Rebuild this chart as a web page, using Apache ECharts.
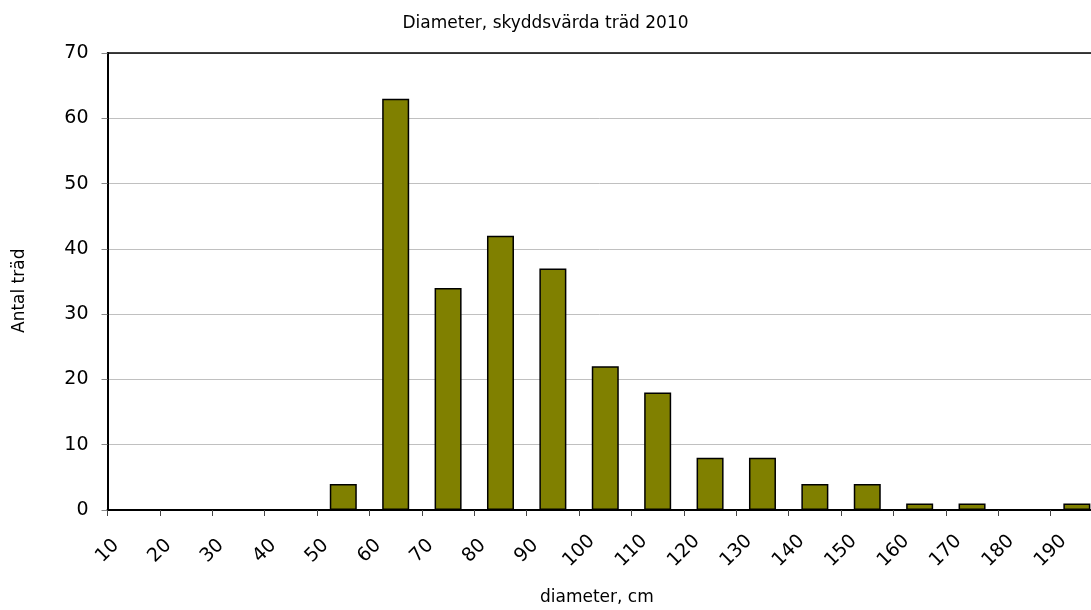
<!DOCTYPE html>
<html>
<head>
<meta charset="utf-8">
<script src="https://cdn.jsdelivr.net/npm/echarts@6/dist/echarts.min.js"></script>
<style>
  html, body { margin: 0; padding: 0; background: #fff; }
  #chart { width: 1091px; height: 610px; }
</style>
</head>
<body>
<div id="chart"></div>
<script>
// bin centres (cm), counts per 10 cm bin
var binCenters = [15, 25, 35, 45, 55, 65, 75, 85, 95, 105, 115, 125, 135, 145, 155, 165, 175, 185, 195];
var counts     = [0, 0, 0, 0, 4, 63, 34, 42, 37, 22, 18, 8, 8, 4, 4, 1, 1, 0, 1];
var yTicks = [0, 10, 20, 30, 40, 50, 60, 70];
// the original chart is cut off at the right edge, a bit before 200 cm
var xMin = 10, xMax = 197.7;

var fontFam = 'DejaVu Sans';

var seriesData = [];
for (var i = 0; i < binCenters.length; i++) {
    seriesData.push([binCenters[i], counts[i]]);
}

var option = {
    animation: false,
    grid: {
        left: 107.5,
        right: 0,
        top: 53,
        height: 457
    },
    graphic: [
        {
            type: 'text', left: 'center', top: 15,
            style: { text: 'Diameter, skyddsvärda träd 2010', font: '17px ' + fontFam, fill: '#000' }
        },
        {
            type: 'text', x: 540, y: 589,
            style: { text: 'diameter, cm', font: '17px ' + fontFam, fill: '#000' }
        },
        {
            type: 'text', x: 11, y: 333, rotation: Math.PI / 2,
            style: { text: 'Antal träd', font: '17px ' + fontFam, fill: '#000' }
        }
    ],
    xAxis: [
        {
            type: 'value',
            min: xMin,
            max: xMax,
            interval: 10,
            axisLine: { show: true, onZero: false, lineStyle: { color: '#000', width: 2 } },
            axisTick: { show: true, length: 6, lineStyle: { color: '#444' } },
            splitLine: { show: false },
            axisLabel: {
                rotate: 45,
                margin: 41,
                align: 'center',
                verticalAlign: 'middle',
                color: '#000',
                fontSize: 19,
                fontFamily: fontFam,
                showMaxLabel: false
            }
        },
        {
            // top border of the plot area
            type: 'value',
            position: 'top',
            min: xMin,
            max: xMax,
            axisLine: { show: true, onZero: false, lineStyle: { color: '#000', width: 1.5 } },
            axisTick: { show: false },
            axisLabel: { show: false },
            splitLine: { show: false }
        }
    ],
    yAxis: {
        type: 'value',
        min: yTicks[0],
        max: yTicks[yTicks.length - 1],
        interval: 10,
        axisLine: { show: true, lineStyle: { color: '#000', width: 2 } },
        axisTick: { show: true, length: 6, lineStyle: { color: '#888' } },
        splitLine: { show: true, lineStyle: { color: '#c0c0c0', width: 1 } },
        axisLabel: { color: '#000', fontSize: 19, fontFamily: fontFam, margin: 19 }
    },
    series: [
        {
            type: 'bar',
            xAxisIndex: 0,
            data: seriesData,
            barWidth: 27,
            itemStyle: { color: '#808000', borderColor: '#000', borderWidth: 1.5 }
        }
    ]
};

var chart = echarts.init(document.getElementById('chart'), null, { renderer: 'canvas' });
chart.setOption(option);
</script>
</body>
</html>
